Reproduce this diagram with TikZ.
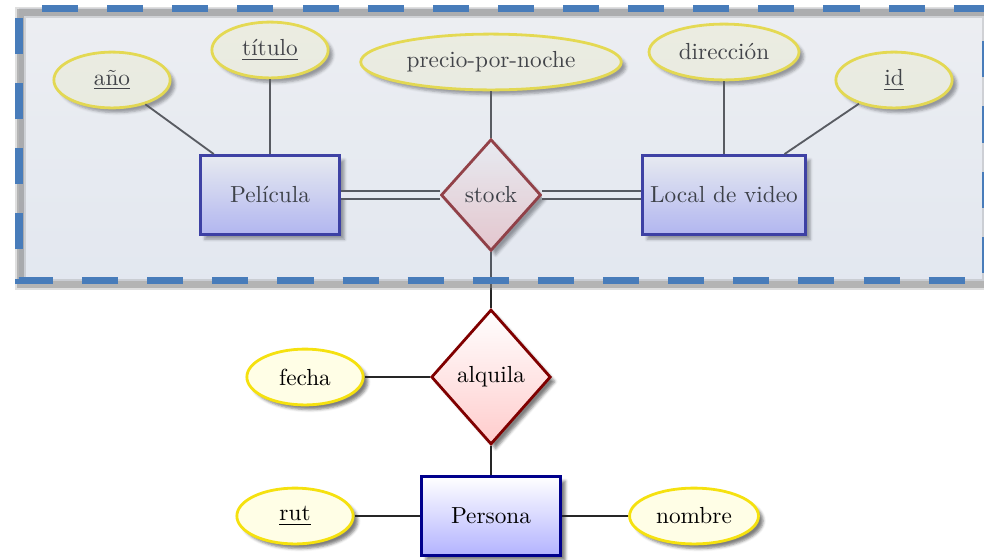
\documentclass[tikz,border=0pt]{standalone}
\usepackage{fontspec}
\usepackage{tikz}
\usetikzlibrary{shapes.geometric,shadows.blur}
\definecolor{attrline}{RGB}{245,225,15}
\definecolor{boxline}{RGB}{72,124,186}
\tikzstyle{entity} = [rectangle, draw=blue!55!black, very thick, top color=white, bottom color=blue!30, blur shadow={shadow xshift=2pt, shadow yshift=-2pt, shadow blur radius=1.2pt, shadow opacity=50}, minimum width=60pt, minimum height=34pt]
\tikzstyle{relation} = [diamond, draw=red!50!black, very thick, top color=white, bottom color=red!20, blur shadow={shadow xshift=2pt, shadow yshift=-2pt, shadow blur radius=1.2pt, shadow opacity=50}]
\tikzstyle{attrib} = [ellipse, draw=attrline, very thick, fill=yellow!10, blur shadow={shadow xshift=2pt, shadow yshift=-2pt, shadow blur radius=1.2pt, shadow opacity=50}, minimum width=50pt, minimum height=24pt]
\tikzstyle{link} = [line width=0.8pt, black!85]

\begin{document}
\begin{tikzpicture}[x=0.43pt,y=-0.43pt]
\useasboundingbox (0,0) rectangle (984,559);
\clip (0,0) rectangle (984,559);

%Entities
\node[entity] (pelicula) at (270,195) {Película};
\node[entity] (local) at (724,195) {Local de video};
\node[entity] (persona) at (491,516) {Persona};
%Relations
\node[relation, minimum width=43pt, minimum height=48pt] (stock) at (491,195) {stock};
\node[relation, minimum width=51pt, minimum height=58pt] (alquila) at (491,377) {alquila};
%Attributes
\node[attrib] (anio) at (112,80) {\underline{año}};
\node[attrib] (titulo) at (270,50) {\underline{título}};
\node[attrib] (precio) at (491,62) {precio-por-noche};
\node[attrib] (direccion) at (724,52) {dirección};
\node[attrib] (id) at (894,80) {\underline{id}};
\node[attrib] (fecha) at (305,377) {fecha};
\node[attrib] (rut) at (295,516) {\underline{rut}};
\node[attrib] (nombre) at (694,516) {nombre};

%Lines
\draw[link] (anio) -- (pelicula);
\draw[link] (titulo) -- (pelicula);
\draw[link] (precio) -- (stock);
\draw[link] (direccion) -- (local);
\draw[link] (id) -- (local);
\draw[link, double, double distance=3pt] (pelicula) -- (stock);
\draw[link, double, double distance=3pt] (stock) -- (local);
\draw[link] (stock) -- (alquila);
\draw[link] (fecha) -- (alquila);
\draw[link] (alquila) -- (persona);
\draw[link] (rut) -- (persona);
\draw[link] (persona) -- (nombre);

%Aggregation box
\shade[top color={rgb,255:red,200;green,205;blue,218}, bottom color={rgb,255:red,172;green,186;blue,210}, fill opacity=0.34] (19,8.5) rectangle (986,280.5);
\draw[gray, line width=5pt, opacity=0.25] (20.5,12.5) rectangle (987.5,284.5);
\draw[gray, line width=3pt, opacity=0.45] (20.5,12.5) rectangle (987.5,284.5);
\draw[boxline, line width=3.4pt, dash pattern=on 15.5pt off 12.5pt, dash phase=23.9pt] (19,8.5) rectangle (986,280.5);

\end{tikzpicture}
\end{document}
